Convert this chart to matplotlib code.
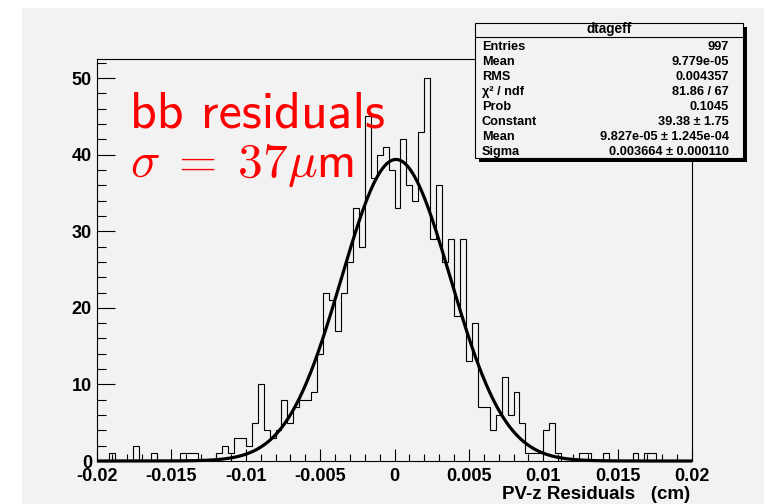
import numpy as np
import matplotlib
matplotlib.use("Agg")
import matplotlib.pyplot as plt
from matplotlib.patches import Rectangle
from matplotlib.lines import Line2D
from matplotlib.ticker import MultipleLocator

W, H = 764, 504

# ---------------- data ----------------
bin_lo, bin_hi, n_bins = -0.02, 0.02, 100
counts = [
    0, 0, 1, 0, 0, 0, 2, 0, 0, 1,
    0, 0, 0, 0, 1, 1, 1, 0, 0, 0,
    1, 2, 1, 3, 3, 2, 5, 10, 4, 3,
    4, 8, 5, 7, 8, 8, 9, 14, 22, 21,
    17, 22, 26, 33, 28, 45, 37, 40, 41, 38,
    33, 42, 36, 34, 43, 50, 29, 36, 26, 29,
    19, 29, 13, 18, 7, 7, 4, 6, 11, 6,
    9, 5, 1, 1, 1, 4, 5, 1, 0, 0,
    0, 1, 1, 0, 0, 1, 0, 0, 0, 0,
    1, 0, 1, 1, 0, 0, 0, 0, 0, 0,
]
fit_constant = 39.38
fit_mean = 9.827e-05
fit_sigma = 0.003664

x_ticks = [-0.02, -0.015, -0.01, -0.005, 0.0, 0.005, 0.01, 0.015, 0.02]
x_tick_labels = ["-0.02", "-0.015", "-0.01", "-0.005", "0", "0.005", "0.01", "0.015", "0.02"]
y_ticks = [0, 10, 20, 30, 40, 50]
y_tick_labels = ["0", "10", "20", "30", "40", "50"]
x_title = "PV-z Residuals   (cm)"

stat_title = "dtageff"
stat_names = ["Entries", "Mean", "RMS", "\u03c7\u00b2 / ndf", "Prob", "Constant", "Mean", "Sigma"]
stat_values = ["997", "9.779e-05", "0.004357", "81.86 / 67", "0.1045",
               "39.38 \u00b1 1.75", "9.827e-05 \u00b1 1.245e-04", "0.003664 \u00b1 0.000110"]

label_line1 = "bb residuals"
label_line2 = r"$\sigma\;=\;37\mu\mathsf{m}$"

# ---------------- style ----------------
BG = "#f2f2f2"
plt.rcParams['font.family'] = ['Liberation Sans', 'DejaVu Sans']

fig = plt.figure(figsize=(W / 100, H / 100), dpi=100, facecolor=BG)


def fx(px):
    return px / W


def fy(py):
    return 1 - py / H


# white outer margins (left and top)
fig.patches.append(Rectangle((0, 0), fx(22), 1, transform=fig.transFigure,
                             facecolor="white", edgecolor="none", zorder=-5))
fig.patches.append(Rectangle((0, fy(8)), 1, 1 - fy(8), transform=fig.transFigure,
                             facecolor="white", edgecolor="none", zorder=-5))

ax = fig.add_axes([fx(97), fy(461), fx(692) - fx(97), fy(59) - fy(461)])
ax.set_facecolor(BG)

edges = np.linspace(bin_lo, bin_hi, n_bins + 1)
ax.stairs(counts, edges, color="black", lw=0.8, baseline=0)

xs = np.linspace(bin_lo, bin_hi, 800)
ax.plot(xs, fit_constant * np.exp(-0.5 * ((xs - fit_mean) / fit_sigma) ** 2),
        color="black", lw=2.3, clip_on=False, solid_capstyle="butt")

ax.set_xlim(bin_lo, bin_hi)
ax.set_ylim(0, 1.05 * max(counts))

ax.set_xticks(x_ticks)
ax.set_xticklabels(x_tick_labels, fontsize=13, fontweight="bold")
ax.set_yticks(y_ticks)
ax.set_yticklabels(y_tick_labels, fontsize=13, fontweight="bold")
ax.xaxis.set_minor_locator(MultipleLocator(0.001))
ax.yaxis.set_minor_locator(MultipleLocator(2))
ax.tick_params(axis="x", which="major", direction="in", length=8.6, width=0.8, pad=5.0)
ax.tick_params(axis="x", which="minor", direction="in", length=4.7, width=0.8)
ax.tick_params(axis="y", which="major", direction="in", length=13, width=0.8, pad=3.6)
ax.tick_params(axis="y", which="minor", direction="in", length=6.5, width=0.8)
for s in ax.spines.values():
    s.set_linewidth(0.8)

# x axis title
fig.text(fx(690), fy(499), x_title, ha="right", va="baseline",
         fontsize=13.5, fontweight="bold")

# red annotation
fig.text(fx(130), fy(127), label_line1, ha="left", va="baseline",
         fontsize=37.5, color="red", family="cmss10")
fig.text(fx(130), fy(177), label_line2, ha="left", va="baseline",
         fontsize=35.5, color="red", math_fontfamily="cm")

# ---------------- stats box ----------------
bx0, bx1, by0, by1 = 475, 743, 23, 158
sh = 4
fig.patches.append(Rectangle((fx(bx0 + sh), fy(by1 + sh)), fx(bx1 + sh) - fx(bx0 + sh),
                             fy(by0 + sh) - fy(by1 + sh), transform=fig.transFigure,
                             facecolor="black", edgecolor="none", zorder=5))
fig.patches.append(Rectangle((fx(bx0), fy(by1)), fx(bx1) - fx(bx0), fy(by0) - fy(by1),
                             transform=fig.transFigure, facecolor=BG, edgecolor="black",
                             lw=0.8, zorder=6))
fig.lines.append(Line2D([fx(bx0), fx(bx1)], [fy(37), fy(37)], transform=fig.transFigure,
                        color="black", lw=0.8, zorder=7))
fig.text(fx((bx0 + bx1) / 2), fy(33.5), stat_title, ha="center", va="baseline",
         fontsize=9.8, fontweight="bold", zorder=8)
for i, (nm, val) in enumerate(zip(stat_names, stat_values)):
    yb = 50 + 15.0 * i
    fig.text(fx(482), fy(yb), nm, ha="left", va="baseline", fontsize=9.2,
             fontweight="bold", zorder=8)
    fig.text(fx(729), fy(yb), val, ha="right", va="baseline", fontsize=9.2,
             fontweight="bold", zorder=8)

fig.savefig("out.png", dpi=100, facecolor=BG)
